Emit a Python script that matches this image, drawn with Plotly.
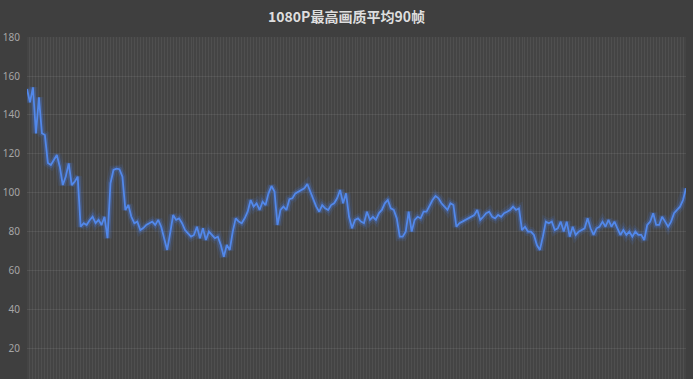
import plotly.graph_objects as go

title_text = "1080P最高画质平均90帧"

seg_a = [153.3, 146.5, 154.2, 130.6, 149, 130.6, 129.7, 115.4, 114.4, 117, 119.5, 113.5, 104.1, 108.4,
         115.2, 104, 105.8, 108.4, 82.7, 84.5, 83.6, 86, 87.8, 84.5, 86.2, 83.6, 87.8, 76.8, 105, 111.8,
         112.5, 112.2, 108.4, 91.3, 93.8, 87.8, 84.5, 85.3, 81, 82, 83.6, 84.5, 85.3]
seg_b = [83.6, 86.2, 82.7, 76.8, 70.8, 79.3, 88.7, 86.2, 87, 84.5, 81, 79.3, 77.6, 78.5, 82.7, 76.8,
         81.9, 75.9, 80.2, 78.5, 76.8, 77.6, 73.3, 67.3, 73.3, 70.8, 80.2, 87, 85.3, 84.5, 87, 90.4,
         96.4, 93, 94.7, 91.3, 95.5, 93.8, 99.8, 103.6, 100.7, 83.6, 91.3, 93, 91.3, 96.8]
seg_c = [97.3, 99.8, 100.7, 101.5, 102.4, 104.6, 100.7, 97.3, 93, 90.4, 93.8, 92.1, 91.3, 93.8, 94.7,
         97.3, 101.5, 94.7, 99.8, 87.8, 81.9, 86.2, 87, 85.3, 84.5, 90.4, 86.2, 87.8, 86.2, 89.6, 91.3,
         94.7, 96.4, 92.1, 91.3, 87, 77.6, 77.6, 80.2, 90.4, 80.2, 86.2, 87.8]
seg_d = [87, 90.4, 90.4, 93.8, 96.4, 98.5, 97.3, 94.7, 93, 91.3, 94.7, 93.8, 82.7, 84.5, 85.3, 86.2,
         87, 87.8, 88.7, 91.3, 86.2, 87.8, 89.6, 90.4, 87.8, 87, 88.7, 87.8, 89.6, 90.4, 91.3, 93, 91.3,
         92.1, 81, 82.7, 80.2, 80.2, 78.5, 73.3, 70.8, 77.6, 85.3]
seg_e = [84.5, 85.3, 81, 81.9, 85.3, 80.2, 85.3, 77.6, 82.7, 78.5, 80.2, 81, 81.9, 87, 81.9, 78.5,
         81.9, 82.7, 85.3, 82.7, 86.2, 82.7, 85.3, 81.9, 78.5, 81, 78.5, 80.2, 77.6, 80.2, 78.5, 78.5,
         75.9, 83.6, 85.3, 89.6, 83.6, 83.6, 87.8, 85.3, 82.7, 85.3, 89.6, 91.3, 93, 96.4, 102.4]

fps = seg_a + seg_b + seg_c + seg_d + seg_e
frames = list(range(len(fps)))

y_ticks = [20, 40, 60, 80, 100, 120, 140, 160, 180]

fig = go.Figure()
# glow layers
fig.add_trace(go.Scatter(x=frames, y=fps, mode="lines",
                         line=dict(color="rgba(70,120,220,0.12)", width=9),
                         hoverinfo="skip", showlegend=False))
fig.add_trace(go.Scatter(x=frames, y=fps, mode="lines",
                         line=dict(color="rgba(70,120,220,0.30)", width=5),
                         hoverinfo="skip", showlegend=False))
fig.add_trace(go.Scatter(x=frames, y=fps, mode="lines",
                         line=dict(color="#5288ea", width=1.8),
                         showlegend=False))

fig.update_layout(
    width=693, height=379,
    margin=dict(l=27, r=7, t=37, b=0),
    paper_bgcolor="#3f3f3f",
    plot_bgcolor="#444444",
    title=dict(text=title_text, x=0.5, xanchor="center", y=0.955, yanchor="middle",
               font=dict(family="Noto Sans CJK SC", size=14, color="#dedede", weight="bold")),
    xaxis=dict(range=[0, len(fps) - 1], tickmode="linear", tick0=0, dtick=1,
               showticklabels=False, showgrid=True, gridcolor="rgba(255,255,255,0.06)",
               gridwidth=1, zeroline=False, showline=False, ticks=""),
    yaxis=dict(range=[4.6, 180], tickvals=y_ticks, showgrid=True,
               gridcolor="rgba(255,255,255,0.08)", gridwidth=1, zeroline=False,
               showline=False, ticks="", ticklabelstandoff=6,
               tickfont=dict(family="Noto Sans", size=10, color="#a6a6a6")),
)

fig.write_html("out.html")
